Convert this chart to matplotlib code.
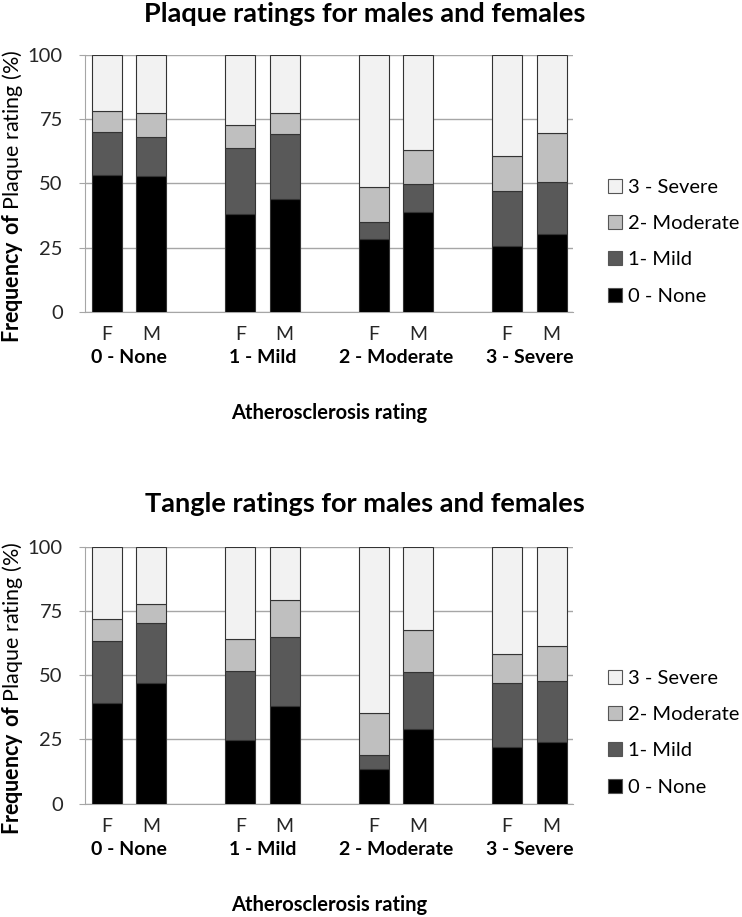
# Gráfico de barras empilhadas: placas e emaranhados por sexo e grau de aterosclerose
import matplotlib
matplotlib.use("Agg")
import matplotlib.pyplot as plt
from matplotlib.patches import Patch

plt.rcParams['font.family'] = ['Lato', 'DejaVu Sans']
plt.rcParams['mathtext.fontset'] = 'custom'
plt.rcParams['mathtext.rm'] = 'Lato'
plt.rcParams['mathtext.bf'] = 'Lato:bold'

# Categorias
grupos = ['0 - None', '1 - Mild', '2 - Moderate', '3 - Severe']
sexos = ['F', 'M']
niveis = ['0 - None', '1- Mild', '2- Moderate', '3 - Severe']
cores = ['#000000', '#595959', '#bfbfbf', '#f2f2f2']

# Valores (%) na ordem: F/M para cada grupo de aterosclerose
placa_none = [53.3, 52.9, 38.2, 43.9, 28.2, 39.0, 25.7, 30.4]
placa_mild = [16.6, 15.1, 25.7, 25.2, 6.9, 10.9, 21.3, 20.2]
placa_mod = [8.4, 9.4, 9.0, 8.3, 13.6, 13.2, 13.5, 18.9]
placa_sev = [21.7, 22.6, 27.1, 22.6, 51.3, 36.9, 39.5, 30.5]

tangle_none = [39.1, 47.0, 24.8, 37.9, 13.4, 29.0, 21.9, 23.9]
tangle_mild = [24.1, 23.2, 26.8, 27.0, 5.4, 22.2, 24.9, 23.7]
tangle_mod = [8.6, 7.6, 12.4, 14.4, 16.5, 16.5, 11.3, 13.6]
tangle_sev = [28.2, 22.2, 36.0, 20.7, 64.7, 32.3, 41.9, 38.8]

# Variaveis
titulo1 = "Plaque ratings for males and females"
titulo2 = "Tangle ratings for males and females"
eixoX = "Atherosclerosis rating"
eixoY = r"$\bf{Frequency\ of}$ Plaque rating (%)"

# posicoes das barras: F e M lado a lado, grupos separados
xs = []
rotulos = []
for i in range(len(grupos)):
    for j in range(len(sexos)):
        xs.append(3 * i + j)
        rotulos.append(sexos[j])

fig = plt.figure(figsize=(7.42, 9.17), dpi=100)
ax1 = fig.add_axes([0.1146, 0.6601, 0.6576, 0.2799])
ax2 = fig.add_axes([0.1146, 0.1236, 0.6576, 0.2803])


def desenha(ax, series, titulo, y_titulo, y_legenda, y_rotulo):
    base = [0] * len(xs)
    for k, valores in enumerate(series):
        ax.bar(xs, valores, width=0.67, bottom=base, color=cores[k],
               edgecolor='#333333', linewidth=0.8, zorder=3)
        base = [b + v for b, v in zip(base, valores)]

    ax.set_ylim(0, 100)
    ax.set_xlim(-0.49, 10.48)
    ax.set_yticks([0, 25, 50, 75, 100])
    ax.yaxis.grid(True, color='#a6a6a6', linewidth=1)
    ax.set_axisbelow(True)
    for lado in ['top', 'right']:
        ax.spines[lado].set_visible(False)
    ax.spines['left'].set_color('#a6a6a6')
    ax.spines['bottom'].set_color('#a6a6a6')
    ax.tick_params(axis='y', length=4, color='#a6a6a6', pad=12,
                   labelsize=14.5, labelcolor='#262626')
    ax.set_xticks(xs)
    ax.set_xticklabels(rotulos)
    ax.tick_params(axis='x', length=0, pad=10, labelsize=14,
                   labelcolor='#262626')

    for i, g in enumerate(grupos):
        ax.text(3 * i + 0.5, -0.179, g, transform=ax.get_xaxis_transform(),
                ha='center', va='center', fontsize=14, fontweight='bold')
    ax.text(0.5, -0.393, eixoX, transform=ax.transAxes, ha='center',
            va='center', fontsize=14.5, fontweight='bold')

    fig.text(0.492, y_titulo, titulo, ha='center', va='center',
             fontsize=19.5, fontweight='bold')
    fig.text(13 / 742, y_rotulo, eixoY, rotation=90, ha='center',
             va='center', fontsize=15.5)

    alcas = [Patch(facecolor=cores[k], edgecolor='#555555', linewidth=0.8,
                   label=niveis[k]) for k in range(len(niveis))][::-1]
    fig.legend(handles=alcas, loc='center left',
               bbox_to_anchor=(608 / 742, y_legenda), frameon=False,
               fontsize=14.5, handlelength=0.7, handleheight=0.7,
               handletextpad=0.3, labelspacing=0.95, borderpad=0,
               borderaxespad=0)


desenha(ax1, [placa_none, placa_mild, placa_mod, placa_sev], titulo1,
        1 - 14 / 917, 1 - 241.8 / 917, 1 - 196 / 917)
desenha(ax2, [tangle_none, tangle_mild, tangle_mod, tangle_sev], titulo2,
        1 - 504 / 917, 1 - 732.8 / 917, 1 - 688 / 917)

plt.savefig('out.png', dpi=100)
